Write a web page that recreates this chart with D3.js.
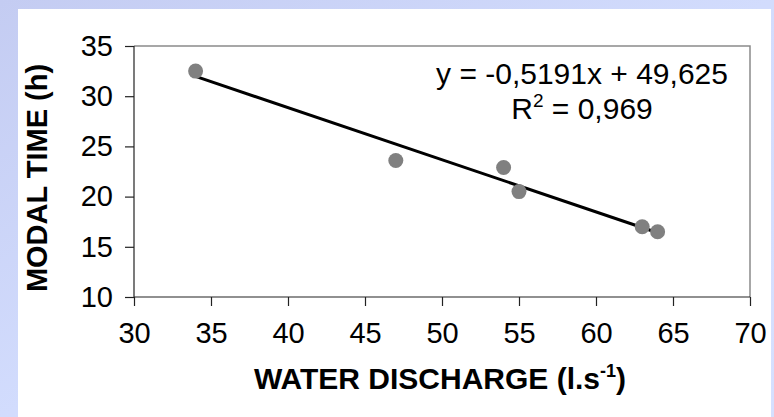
<!DOCTYPE html>
<html><head><meta charset="utf-8">
<script src="https://cdn.jsdelivr.net/npm/d3@7"></script>
<style>html,body{margin:0;padding:0;overflow:hidden;background:#fff}</style>
</head><body>
<svg id="chart" width="774" height="417"></svg>
<script>
const discharge = [34, 47, 54, 55, 63, 64];
const modalTime = [32.5, 23.6, 22.9, 20.5, 17.0, 16.5];
const xTicks = [30, 35, 40, 45, 50, 55, 60, 65, 70];
const yTicks = [10, 15, 20, 25, 30, 35];
const slope = -0.5191, intercept = 49.625;
const eqLabel = "y = -0,5191x + 49,625";
const r2Label = "0,969";
const xTitle = "WATER DISCHARGE (l.s";
const yTitle = "MODAL TIME (h)";

const svg = d3.select("#chart");
const defs = svg.append("defs");
const g = defs.append("linearGradient").attr("id","bg").attr("x1","0").attr("y1","0").attr("x2","1").attr("y2","1");
g.append("stop").attr("offset","0").attr("stop-color","#c4ccf2");
g.append("stop").attr("offset","0.5").attr("stop-color","#d2dcfd");
g.append("stop").attr("offset","1").attr("stop-color","#d6e0ff");
svg.append("rect").attr("width",774).attr("height",417).attr("fill","url(#bg)");
svg.append("rect").attr("x",18).attr("y",9).attr("width",753).attr("height",408).attr("fill","#fff");

const x = d3.scaleLinear().domain([30,70]).range([134,750]);
const y = d3.scaleLinear().domain([10,35]).range([297,46]);
const font = "'Liberation Sans', Arial, sans-serif";

// plot frame (top & right)
svg.append("path").attr("d",`M${x(30)},${y(35)}H${x(70)}V${y(10)}`)
  .attr("fill","none").attr("stroke","#8a8a8a").attr("stroke-width",1.5);

const xAxis = svg.append("g").attr("transform",`translate(0,${y(10)})`)
  .call(d3.axisBottom(x).tickValues(xTicks).tickSize(9).tickPadding(16).tickFormat(d3.format("d")));
const yAxis = svg.append("g").attr("transform",`translate(${x(30)},0)`)
  .call(d3.axisLeft(y).tickValues(yTicks).tickSize(9).tickPadding(12).tickFormat(d3.format("d")));
[xAxis,yAxis].forEach(a=>{
  a.selectAll("path").attr("stroke","#222").attr("stroke-width",1.2);
  a.selectAll("line").attr("stroke","#222").attr("stroke-width",1.2);
  a.selectAll("text").attr("font-family",font).attr("font-size",29).attr("fill","#000");
});
xAxis.select(".domain").attr("d",`M${x(30)},0H${x(70)}`);
yAxis.select(".domain").attr("d",`M0,${y(10)}V${y(35)}`);

// trendline
const xmin = d3.min(discharge), xmax = d3.max(discharge);
svg.append("line").attr("x1",x(xmin)).attr("y1",y(slope*xmin+intercept))
  .attr("x2",x(xmax)).attr("y2",y(slope*xmax+intercept))
  .attr("stroke","#000").attr("stroke-width",3);

// points
svg.append("g").selectAll("circle").data(discharge.map((d,i)=>[d,modalTime[i]])).join("circle")
  .attr("cx",d=>x(d[0])).attr("cy",d=>y(d[1])).attr("r",7.5).attr("fill","#808080");

// equation
svg.append("text").attr("x",582).attr("y",84).attr("text-anchor","middle")
  .attr("font-family",font).attr("font-size",30).text(eqLabel);
const r2 = svg.append("text").attr("x",582).attr("y",119).attr("text-anchor","middle")
  .attr("font-family",font).attr("font-size",30);
r2.append("tspan").text("R");
r2.append("tspan").attr("font-size",19).attr("dy",-12).text("2");
r2.append("tspan").attr("dy",12).text(" = " + r2Label);

// axis titles
const xt = svg.append("text").attr("x",440).attr("y",389).attr("text-anchor","middle")
  .attr("font-family",font).attr("font-size",30).attr("font-weight","bold");
xt.append("tspan").text(xTitle);
xt.append("tspan").attr("font-size",18).attr("dy",-12).text("-1");
xt.append("tspan").attr("dy",12).text(")");

svg.append("text").attr("transform",`translate(47,178) rotate(-90)`)
  .attr("text-anchor","middle").attr("font-family",font).attr("font-size",29)
  .attr("font-weight","bold").text(yTitle);
</script>
</body></html>
